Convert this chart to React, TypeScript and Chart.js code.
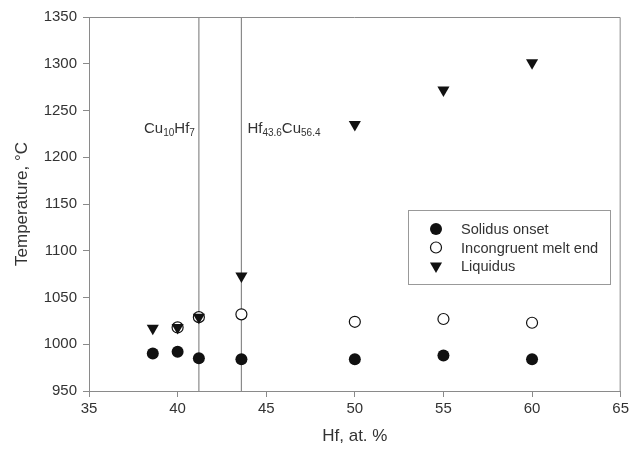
import React, { useEffect, useRef } from "react";
import { Chart, registerables } from "chart.js";

Chart.register(...registerables);

const hfSolidus = [38.6, 40, 41.2, 43.6, 50, 55, 60];
const tSolidus = [990, 992, 985, 984, 984, 988, 984];
const hfIncongruent = [40, 41.2, 43.6, 50, 55, 60];
const tIncongruent = [1018, 1029, 1032, 1024, 1027, 1023];
const hfLiquidus = [38.6, 40, 41.2, 43.6, 50, 55, 60];
const tLiquidus = [1017, 1018, 1029, 1073, 1235, 1272, 1301];
const phaseHf = [41.2, 43.6];
const phaseLabels = [
  [{ t: "Cu" }, { t: "10", sub: true }, { t: "Hf" }, { t: "7", sub: true }],
  [{ t: "Hf" }, { t: "43.6", sub: true }, { t: "Cu" }, { t: "56.4", sub: true }],
];
const phaseLabelT = 1230;
const seriesNames = ["Solidus onset", "Incongruent melt end", "Liquidus"];
const xTicks = [35, 40, 45, 50, 55, 60, 65];
const yTicks = [950, 1000, 1050, 1100, 1150, 1200, 1250, 1300, 1350];

const FONT = "Liberation Sans, Arial, sans-serif";
const TEXT = "#333";
const AXIS = "#8a8a8a";

const zip = (xs: number[], ys: number[]) => xs.map((x, i) => ({ x, y: ys[i] }));

function drawMarker(ctx: CanvasRenderingContext2D, kind: number, x: number, y: number) {
  ctx.save();
  ctx.lineWidth = 1.2;
  ctx.strokeStyle = "#111";
  ctx.beginPath();
  if (kind === 0) {
    ctx.arc(x, y, 6, 0, Math.PI * 2);
    ctx.fillStyle = "#111";
    ctx.fill();
  } else if (kind === 1) {
    ctx.arc(x, y, 5.5, 0, Math.PI * 2);
    ctx.fillStyle = "#fff";
    ctx.fill();
    ctx.stroke();
  } else {
    const r = 7;
    let rad = Math.PI;
    ctx.moveTo(x + Math.sin(rad) * r, y - Math.cos(rad) * r);
    rad += (2 * Math.PI) / 3;
    ctx.lineTo(x + Math.sin(rad) * r, y - Math.cos(rad) * r);
    rad += (2 * Math.PI) / 3;
    ctx.lineTo(x + Math.sin(rad) * r, y - Math.cos(rad) * r);
    ctx.closePath();
    ctx.fillStyle = "#111";
    ctx.fill();
  }
  ctx.restore();
}

const framePlugin = {
  id: "frame",
  afterDatasetsDraw(chart: any) {
    const { ctx, chartArea: a } = chart;
    ctx.save();
    ctx.strokeStyle = AXIS;
    ctx.lineWidth = 1;
    ctx.beginPath();
    ctx.moveTo(a.left, a.top + 0.5);
    ctx.lineTo(a.right - 0.5, a.top + 0.5);
    ctx.lineTo(a.right - 0.5, a.bottom);
    ctx.stroke();
    ctx.restore();
  },
};

const labelPlugin = {
  id: "phaseLabels",
  afterDatasetsDraw(chart: any) {
    const { ctx, scales } = chart;
    const y = scales.y.getPixelForValue(phaseLabelT);
    phaseLabels.forEach((segs, i) => {
      ctx.save();
      let w = 0;
      segs.forEach((s: any) => {
        ctx.font = s.sub ? `10px ${FONT}` : `15px ${FONT}`;
        w += ctx.measureText(s.t).width;
      });
      const px = scales.x.getPixelForValue(phaseHf[i]);
      let x = i === 0 ? px - 4 - w : px + 6;
      ctx.fillStyle = TEXT;
      ctx.textBaseline = "alphabetic";
      ctx.textAlign = "left";
      segs.forEach((s: any) => {
        ctx.font = s.sub ? `10px ${FONT}` : `15px ${FONT}`;
        ctx.fillText(s.t, x, s.sub ? y + 7 : y + 4);
        x += ctx.measureText(s.t).width;
      });
      ctx.restore();
    });
  },
};

const legendPlugin = {
  id: "boxLegend",
  afterDraw(chart: any) {
    const { ctx } = chart;
    const bx = 408, by = 210, bw = 202, bh = 74;
    ctx.save();
    ctx.fillStyle = "#fff";
    ctx.fillRect(bx, by, bw, bh);
    ctx.strokeStyle = "#999";
    ctx.lineWidth = 1;
    ctx.strokeRect(bx + 0.5, by + 0.5, bw, bh);
    ctx.font = `14.6px ${FONT}`;
    ctx.textBaseline = "middle";
    ctx.textAlign = "left";
    seriesNames.forEach((name, i) => {
      const yy = by + 19 + i * 18.5;
      drawMarker(ctx, i, 436, yy);
      ctx.fillStyle = TEXT;
      ctx.fillText(name, 461, yy + 1);
    });
    ctx.restore();
  },
};

export default function App() {
  const ref = useRef<HTMLCanvasElement>(null);
  useEffect(() => {
    if (!ref.current) return;
    const chart = new Chart(ref.current, {
      type: "scatter",
      data: {
        datasets: [
          {
            label: seriesNames[0],
            data: zip(hfSolidus, tSolidus),
            pointStyle: "circle",
            pointRadius: 6,
            backgroundColor: "#111",
            borderColor: "#111",
            borderWidth: 0,
            order: 2,
          },
          {
            label: seriesNames[1],
            data: zip(hfIncongruent, tIncongruent),
            pointStyle: "circle",
            pointRadius: 5.5,
            backgroundColor: "#fff",
            borderColor: "#111",
            borderWidth: 1.2,
            order: 1,
          },
          {
            label: seriesNames[2],
            data: zip(hfLiquidus, tLiquidus),
            pointStyle: "triangle",
            pointRotation: 180,
            pointRadius: 7,
            backgroundColor: "#111",
            borderColor: "#111",
            borderWidth: 0,
            order: 0,
          },
          ...phaseHf.map((h) => ({
            type: "line" as const,
            label: "",
            data: [
              { x: h, y: yTicks[0] },
              { x: h, y: yTicks[yTicks.length - 1] },
            ],
            borderColor: "#8a8a8a",
            borderWidth: 1.2,
            pointRadius: 0,
            showLine: true,
            order: 3,
          })),
        ],
      },
      options: {
        animation: false,
        responsive: false,
        devicePixelRatio: 1,
        layout: { padding: { top: 17, right: 9, left: 0, bottom: 0 } },
        plugins: { legend: { display: false }, tooltip: { enabled: false } },
        scales: {
          x: {
            type: "linear",
            min: xTicks[0],
            max: xTicks[xTicks.length - 1],
            afterBuildTicks: (s: any) => {
              s.ticks = xTicks.map((v) => ({ value: v }));
            },
            afterFit: (s: any) => {
              s.height = 60;
            },
            ticks: {
              font: { family: FONT, size: 15 },
              color: TEXT,
              padding: 3,
              callback: (v: any) => String(v),
            },
            grid: { drawOnChartArea: false, drawTicks: true, tickLength: 6, color: AXIS },
            border: { color: AXIS, width: 1 },
            title: {
              display: true,
              text: "Hf, at. %",
              font: { family: FONT, size: 17 },
              color: TEXT,
              padding: { top: 0, bottom: 4 },
            },
          },
          y: {
            type: "linear",
            min: yTicks[0],
            max: yTicks[yTicks.length - 1],
            afterBuildTicks: (s: any) => {
              s.ticks = yTicks.map((v) => ({ value: v }));
            },
            afterFit: (s: any) => {
              s.width = 89;
            },
            ticks: {
              font: { family: FONT, size: 15 },
              color: TEXT,
              padding: 6,
              callback: (v: any) => String(v),
            },
            grid: { drawOnChartArea: false, drawTicks: true, tickLength: 6, color: AXIS },
            border: { color: AXIS, width: 1 },
            title: {
              display: true,
              text: "Temperature, °C",
              font: { family: FONT, size: 17 },
              color: TEXT,
              padding: { top: 12, bottom: 0 },
            },
          },
        },
      },
      plugins: [framePlugin, labelPlugin, legendPlugin],
    } as any);
    return () => chart.destroy();
  }, []);
  return (
    <div style={{ position: "fixed", left: 0, top: 0, width: 632, height: 451, background: "#fff" }}>
      <canvas ref={ref} width={632} height={451} />
    </div>
  );
}
